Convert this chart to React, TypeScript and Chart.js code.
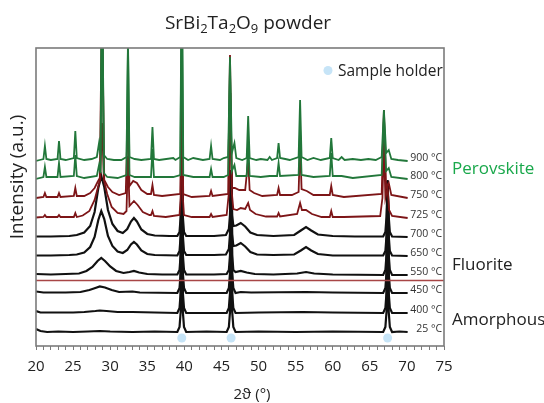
import React, { useEffect, useRef } from "react";
import { Chart, registerables } from "chart.js";

Chart.register(...registerables);

// ---- data (2θ in degrees, intensity above each pattern's own baseline, a.u.) ----
const xTickLabels = [20, 25, 30, 35, 40, 45, 50, 55, 60, 65, 70, 75];
const tempLabels = ["900 °C", "800 °C", "750 °C", "725 °C", "700 °C", "650 °C", "550 °C", "450 °C", "400 °C", "25 °C"];
const offsets = [185, 167, 148, 128, 109, 90, 71, 53, 33, 14];
const traceColors = ["#22773a", "#22773a", "#7d1517", "#7d1517", "#111111", "#111111", "#111111", "#111111", "#111111", "#111111"];
const holderPeaks = [39.65, 46.3, 67.4];
const holderMarkLevel = 8;
const boundaryLevel = 65.5;
const phaseLabels = ["Perovskite", "Fluorite", "Amorphous"];

const t900 = [
  [20, 0], [20.5, 1], [21.0, 2], [21.2, 15], [21.4, 2], [22.0, 1], [22.9, 2], [23.1, 20], [23.3, 2], [24.0, 1],
  [25.1, 3], [25.3, 30], [25.5, 3], [26.5, 1], [27.5, 2], [28.2, 4], [28.5, 18], [28.7, 6], [28.9, 200], [29.15, 6],
  [29.6, 2], [30.5, 1], [31.5, 1], [32.2, 4], [32.4, 115], [32.6, 4], [33.3, 2], [34.2, 1], [35.5, 2], [35.7, 34],
  [35.9, 2], [36.6, 1], [38.5, 3], [38.8, 1], [39.45, 4], [39.65, 200], [39.85, 4], [40.5, 1], [41.2, 3], [42.5, 1],
  [43.4, 2], [43.6, 15], [43.8, 2], [44.8, 1], [45.3, 3], [45.9, 4], [46.15, 104], [46.4, 8], [46.75, 18], [47.0, 3],
  [47.8, 1], [48.4, 3], [48.6, 45], [48.8, 3], [49.7, 1], [50.3, 2], [51.2, 1], [51.5, 4], [51.8, 1], [52.5, 3],
  [52.7, 18], [52.9, 3], [53.6, 2], [54.2, 1], [55.4, 4], [55.6, 61], [55.8, 4], [56.6, 1], [57.4, 3], [58.4, 1],
  [59.6, 3], [59.8, 23], [60.0, 3], [60.8, 1], [61.2, 4], [61.6, 1], [62.7, 2], [63.8, 1], [64.8, 2], [65.8, 1],
  [66.6, 4], [66.9, 51], [67.2, 8], [67.55, 11], [67.9, 2], [68.8, 1], [70.1, 0],
];
const t800 = [
  [20, 0], [21.0, 2], [21.2, 12], [21.4, 2], [22.9, 2], [23.1, 16], [23.3, 2], [25.1, 3], [25.3, 24], [25.5, 3],
  [26.5, 1], [28.2, 3], [28.5, 14], [28.7, 6], [28.9, 200], [29.15, 6], [29.6, 2], [31, 1], [32.2, 4], [32.4, 140],
  [32.6, 4], [33.3, 2], [35.5, 2], [35.7, 30], [35.9, 2], [38.5, 2], [39.45, 4], [39.65, 200], [39.85, 4], [41.2, 2],
  [43.4, 2], [43.6, 10], [43.8, 2], [45.3, 2], [45.9, 4], [46.15, 110], [46.4, 8], [46.75, 14], [47.0, 3], [48.4, 3],
  [48.6, 38], [48.8, 3], [50.3, 2], [51.5, 3], [52.5, 3], [52.7, 16], [52.9, 3], [55.4, 4], [55.6, 50], [55.8, 4],
  [57.4, 2], [59.6, 3], [59.8, 26], [60.0, 3], [61.2, 3], [62.7, 1], [66.6, 4], [66.9, 62], [67.2, 8], [67.55, 11],
  [67.9, 2], [70.1, 0],
];
const t750 = [
  [20, 0], [21.0, 1], [21.2, 5], [21.4, 1], [22.9, 1], [23.1, 5], [23.3, 1], [25.1, 2], [25.3, 10], [25.5, 2],
  [26.5, 2], [27.3, 5], [27.9, 10], [28.3, 16], [28.6, 20], [28.9, 200], [29.2, 18], [29.7, 11], [30.3, 6], [31.2, 3],
  [32.1, 5], [32.4, 88], [32.6, 12], [33.1, 17], [33.6, 15], [34.2, 8], [35.0, 4], [35.5, 4], [35.7, 13], [35.9, 3],
  [37, 2], [39.45, 4], [39.65, 111], [39.85, 4], [41, 1], [43.4, 2], [43.6, 7], [43.8, 2], [45.9, 4], [46.15, 143],
  [46.4, 10], [46.8, 10], [47.4, 8], [48.2, 8], [48.6, 38], [48.8, 8], [49.4, 5], [50.5, 2], [52.5, 3], [52.7, 10],
  [52.9, 3], [54.5, 3], [55.4, 6], [55.6, 55], [55.8, 9], [56.5, 7], [57.4, 3], [59.6, 3], [59.8, 12], [60.0, 3],
  [61.5, 1], [66.6, 4], [66.9, 88], [67.2, 10], [67.55, 15], [67.9, 3], [70.1, 0],
];
const t725 = [
  [20, 0.5], [21.0, 1], [21.2, 3], [21.4, 1], [22.9, 1], [23.1, 3], [23.3, 1], [25.1, 1], [25.3, 5], [25.5, 1],
  [26.3, 2.5], [27.2, 7], [27.9, 18], [28.4, 32], [28.65, 38], [28.9, 95], [29.15, 38], [29.6, 24], [30.2, 11], [31.0, 5],
  [31.8, 4], [32.2, 7], [32.4, 62], [32.6, 12], [33.2, 17], [33.7, 13], [34.4, 6], [35.3, 3], [35.5, 3], [35.7, 7],
  [35.9, 2], [37.5, 1], [39.35, 3], [39.5, 20], [39.65, 120], [39.8, 20], [39.95, 3], [41, 1], [43.4, 1], [43.6, 4],
  [43.8, 1], [45.7, 3], [46.0, 25], [46.2, 125], [46.4, 25], [46.6, 9], [47.1, 8], [47.6, 10], [48.2, 9], [48.6, 15],
  [48.85, 8], [49.6, 4], [51, 1.5], [52.5, 1.5], [52.7, 5], [52.9, 1.5], [55.2, 4], [55.6, 15], [55.85, 8], [56.4, 8],
  [57.2, 4], [58.5, 1], [59.6, 1], [59.8, 7], [60.0, 1], [61.5, 1], [66.4, 2], [66.7, 20], [66.9, 75], [67.1, 20],
  [67.4, 30], [67.6, 8], [68.0, 2], [70.1, 0],
];
const t700 = [
  [20, 0.5], [22, 0.5], [24.5, 1], [25.5, 2], [26.5, 4.5], [27.3, 11], [27.9, 25], [28.4, 49], [28.8, 61], [29.2, 50],
  [29.7, 27], [30.3, 13], [31.0, 6], [31.7, 4], [32.3, 8], [32.8, 15.5], [33.2, 19], [33.6, 15.5], [34.2, 7.5], [35, 3],
  [36, 1.5], [38, 1], [39.05, 1], [39.35, 5], [39.5, 20], [39.65, 77], [39.8, 20], [39.95, 5], [40.25, 1], [44, 1],
  [45.6, 2], [46.0, 8], [46.15, 22], [46.3, 66], [46.45, 22], [46.6, 11], [47.0, 11.5], [47.6, 14], [48.2, 10.5], [48.9, 4.5],
  [49.8, 2], [52, 1], [54.8, 2], [55.7, 6.5], [56.4, 10], [57.1, 6.5], [58, 2.5], [60, 1], [63, 0.5], [66.8, 0.5],
  [67.1, 5], [67.25, 20], [67.4, 56], [67.55, 20], [67.7, 5], [68.0, 0.5], [70.1, 0],
];
const t650 = [
  [20, 0.5], [22, 0.5], [24.5, 1], [25.5, 1.5], [26.5, 3.5], [27.3, 9], [27.9, 19], [28.4, 36], [28.8, 45], [29.2, 37],
  [29.7, 20], [30.3, 10], [31.0, 4.5], [31.7, 3], [32.3, 6], [32.8, 11.5], [33.2, 14], [33.6, 11.5], [34.2, 5.5], [35, 2],
  [36, 1], [39.05, 0.5], [39.35, 5], [39.5, 20], [39.65, 105], [39.8, 20], [39.95, 5], [40.25, 1], [44, 1], [45.6, 1.5],
  [46.0, 7], [46.15, 22], [46.3, 86], [46.45, 22], [46.6, 10], [47.0, 10.5], [47.6, 13], [48.2, 9.5], [48.9, 4], [49.8, 1.5],
  [52, 1], [54.8, 1.5], [55.7, 5.5], [56.4, 9], [57.1, 5.5], [58, 2], [60, 0.5], [63, 0.5], [66.8, 0.5], [67.1, 5],
  [67.25, 20], [67.4, 75], [67.55, 20], [67.7, 5], [68.0, 0.5], [70.1, 0],
];
const t550 = [
  [20, 1], [22, 0.5], [24, 1], [25.8, 1.5], [26.8, 4], [27.6, 8], [28.3, 14], [28.8, 17], [29.3, 14], [30.0, 8.5],
  [30.8, 4], [31.8, 2], [32.6, 3], [33.2, 4], [33.9, 2.5], [35, 1], [37, 0.5], [39.05, 0.5], [39.35, 5], [39.5, 20],
  [39.65, 130], [39.8, 20], [39.95, 5], [40.25, 0.5], [44, 0.5], [45.7, 1], [46.0, 5], [46.15, 20], [46.3, 105], [46.45, 20],
  [46.6, 5], [46.9, 3], [47.6, 4], [48.4, 2.5], [49.5, 1], [52, 0.5], [55.2, 1.5], [56.4, 3], [57.5, 1.5], [60, 0.5],
  [66.8, 0], [67.1, 5], [67.25, 20], [67.4, 94], [67.55, 20], [67.7, 5], [68.0, 0], [70.1, 0],
];
const t450 = [
  [20, 1.5], [21, 0.5], [24, 0.5], [26, 1], [27.2, 3], [28.0, 5], [28.6, 6.5], [29.3, 5.5], [30.2, 3], [31.2, 1],
  [33, 1.5], [34, 0.5], [39.05, 0], [39.35, 5], [39.5, 20], [39.65, 155], [39.8, 20], [39.95, 5], [40.25, 0], [45.7, 0],
  [46.0, 5], [46.15, 20], [46.3, 123], [46.45, 20], [46.6, 5], [46.9, 0], [47.6, 1], [49, 0.5], [56.4, 1], [60, 0.5],
  [66.8, 0], [67.1, 5], [67.25, 20], [67.4, 112], [67.55, 20], [67.7, 5], [68.0, 0], [70.1, 0],
];
const t400 = [
  [20, 2], [20.6, 0.5], [23, 0.5], [25, 0.5], [26.5, 1], [28.0, 2], [28.6, 2.5], [29.5, 2], [31, 1], [33, 1],
  [36, 0.5], [39.05, 0], [39.35, 5], [39.5, 20], [39.65, 180], [39.8, 20], [39.95, 5], [40.25, 0], [45.7, 0], [46.0, 5],
  [46.15, 20], [46.3, 143], [46.45, 20], [46.6, 5], [46.9, 0], [50, 0.5], [56, 1], [60, 0.5], [66.8, 0], [67.1, 5],
  [67.25, 20], [67.4, 132], [67.55, 20], [67.7, 5], [68.0, 0], [70.1, 0],
];
const t25 = [
  [20, 3], [20.6, 1], [21.5, 0], [23, 0.5], [25, 0], [27, 0.5], [28.6, 1], [30, 0.5], [33, 0], [36, 0.5],
  [39.05, 0], [39.35, 5], [39.5, 20], [39.65, 212], [39.8, 20], [39.95, 5], [40.25, 0], [43, 0.5], [45.7, 0], [46.0, 5],
  [46.15, 20], [46.3, 162], [46.45, 20], [46.6, 5], [46.9, 0], [50, 0.5], [55, 0], [60, 0.5], [66.8, 0], [67.1, 5],
  [67.25, 20], [67.4, 152], [67.55, 20], [67.7, 5], [68.0, 0], [69, 0.5], [70.1, 0],
];
const traces = [t900, t800, t750, t725, t700, t650, t550, t450, t400, t25];

const FONT = "'Open Sans', 'Noto Sans', 'DejaVu Sans', sans-serif";

export default function App() {
  const ref = useRef<HTMLCanvasElement>(null);

  useEffect(() => {
    document.body.style.margin = "0";
    const canvas = ref.current;
    if (!canvas) return;
    const ctx = canvas.getContext("2d");
    if (!ctx) return;

    const datasets: any[] = [];
    datasets.push({
      type: "scatter",
      data: holderPeaks.map((x) => ({ x, y: holderMarkLevel })),
      pointRadius: 4.5,
      pointBackgroundColor: "#c6e4f7",
      pointBorderWidth: 0,
      showLine: false,
      order: 0,
    });
    datasets.push({
      data: [{ x: 20, y: boundaryLevel }, { x: 75, y: boundaryLevel }],
      borderColor: "#a84646",
      borderWidth: 1.5,
      pointRadius: 0,
      order: 1,
    });
    traces.forEach((t, i) => {
      datasets.push({
        data: t.map(([x, y]) => ({ x, y: y + offsets[i] })),
        borderColor: traceColors[i],
        borderWidth: i < 4 ? 1.8 : 2.2,
        pointRadius: 0,
        tension: 0,
        order: 2 + i,
      });
    });

    const overlay = {
      id: "overlay",
      afterDraw(chart: any) {
        const c = chart.ctx;
        const a = chart.chartArea;
        const ys = chart.scales.y;
        c.save();
        // frame
        c.strokeStyle = "#7b7b7b";
        c.lineWidth = 1.6;
        c.strokeRect(a.left, a.top, a.right - a.left, a.bottom - a.top);

        // title with subscripts
        const parts: [string, boolean][] = [["SrBi", false], ["2", true], ["Ta", false], ["2", true], ["O", false], ["9", true], [" powder", false]];
        const big = `19px ${FONT}`;
        const small = `13px ${FONT}`;
        let w = 0;
        parts.forEach(([s, sub]) => { c.font = sub ? small : big; w += c.measureText(s).width; });
        let x = 248 - w / 2;
        c.fillStyle = "#222";
        c.textAlign = "left";
        c.textBaseline = "alphabetic";
        parts.forEach(([s, sub]) => {
          c.font = sub ? small : big;
          c.fillText(s, x, sub ? 33 : 29);
          x += c.measureText(s).width;
        });

        // axis titles
        c.font = `15px ${FONT}`;
        c.textAlign = "center";
        c.fillText("2ϑ (°)", 252, 399);
        c.save();
        c.translate(23, 177);
        c.rotate(-Math.PI / 2);
        c.font = `19px ${FONT}`;
        c.fillText("Intensity (a.u.)", 0, 0);
        c.restore();

        // legend
        c.fillStyle = "#c6e4f7";
        c.beginPath();
        c.arc(328, 70.5, 4.5, 0, Math.PI * 2);
        c.fill();
        c.fillStyle = "#222";
        c.textAlign = "left";
        c.font = `15.5px ${FONT}`;
        c.fillText("Sample holder", 338, 76);

        // temperature labels
        c.font = `10.5px ${FONT}`;
        c.textAlign = "right";
        c.textBaseline = "middle";
        c.fillStyle = "#333";
        tempLabels.forEach((t, i) => {
          c.fillText(t, a.right - 2, ys.getPixelForValue(offsets[i]) - 2.5);
        });

        // phase labels
        c.textAlign = "left";
        c.textBaseline = "alphabetic";
        c.font = `17px ${FONT}`;
        c.fillStyle = "#19a84b";
        c.fillText(phaseLabels[0], 452, 174);
        c.fillStyle = "#222";
        c.fillText(phaseLabels[1], 452, 270);
        c.fillText(phaseLabels[2], 452, 325);
        c.restore();
      },
    };

    const chart = new Chart(ctx, {
      type: "line",
      data: { datasets },
      options: {
        animation: false,
        responsive: false,
        events: [],
        layout: { padding: { left: 36, right: 100, top: 48, bottom: 19 } },
        plugins: { legend: { display: false }, tooltip: { enabled: false }, title: { display: false } },
        scales: {
          x: {
            type: "linear",
            min: 20,
            max: 75,
            ticks: {
              stepSize: 1,
              autoSkip: false,
              maxRotation: 0,
              padding: 8,
              color: "#222",
              font: { size: 15, family: FONT },
              callback: (v: any) => (xTickLabels.includes(Math.round(Number(v))) ? String(Math.round(Number(v))) : ""),
            },
            grid: { drawOnChartArea: false, tickLength: 4, color: "#7b7b7b", tickColor: "#7b7b7b" },
            border: { display: false },
          },
          y: { display: false, min: 0, max: 298 },
        },
      },
      plugins: [overlay],
    } as any);

    return () => chart.destroy();
  }, []);

  return (
    <div style={{ width: 544, height: 403 }}>
      <canvas ref={ref} width={544} height={403} />
    </div>
  );
}
